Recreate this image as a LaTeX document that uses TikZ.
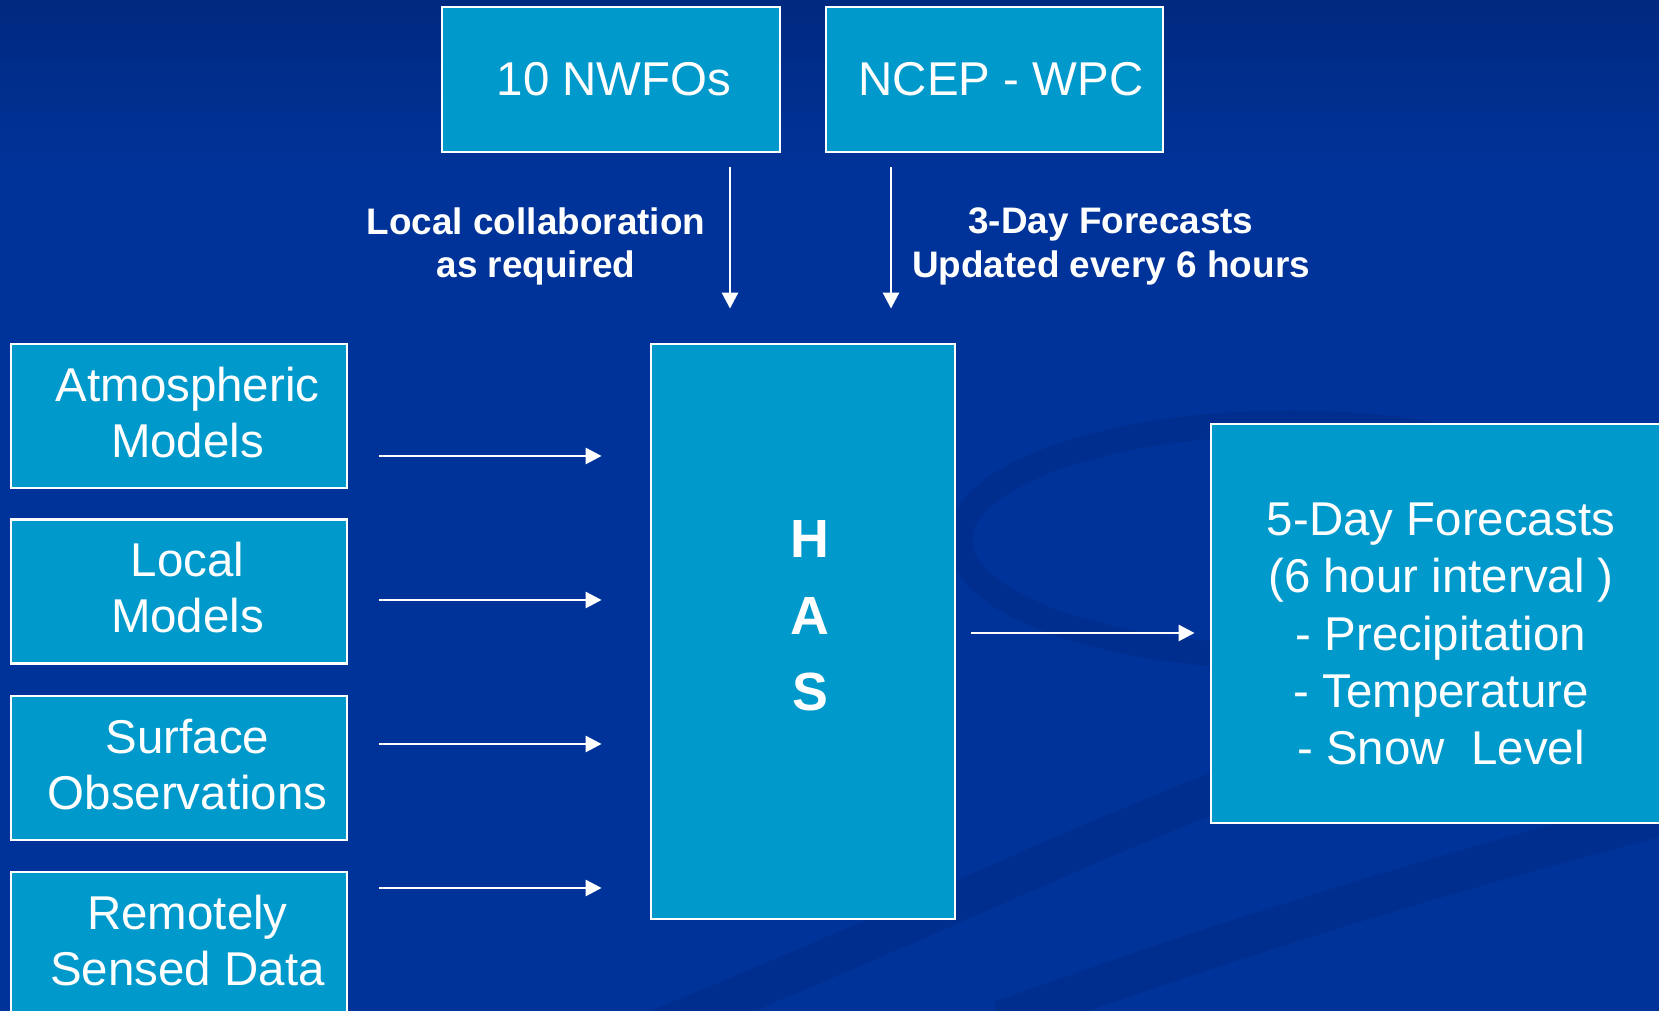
\documentclass[tikz,border=0pt]{standalone}
\usepackage{fontspec}
\setmainfont{Liberation Sans}
\usetikzlibrary{arrows.meta,positioning}
\definecolor{bgblue}{RGB}{0,51,153}
\definecolor{bgtop}{RGB}{0,41,128}
\definecolor{bgdark}{RGB}{0,46,142}
\definecolor{boxblue}{RGB}{0,153,204}

\begin{document}
\begin{tikzpicture}[
	box/.style={draw=white, line width=0.8pt, fill=boxblue, inner sep=0pt},
	boxtxt/.style={text=white, align=center, inner sep=0pt, font=\fontsize{13.5}{15.9}\selectfont},
	flow/.style={draw=white, line width=0.8pt, -{Triangle[length=1.6mm,width=1.6mm]}},
	note/.style={text=white, align=center, font=\bfseries\fontsize{10.5}{12.5}\selectfont}]
	\useasboundingbox (0,0) rectangle (16.59,10.11);
	\clip (0,0) rectangle (16.59,10.11);
	\fill[bgblue] (0,0) rectangle (16.59,10.11);
	\shade[top color=bgtop, bottom color=bgblue] (0,8.4) rectangle (16.59,10.11);
	% background swooshes
	\draw[bgdark, line width=2.5mm] (12.9,4.71) ellipse (3.3 and 1.17);
	\draw[bgdark, line width=4mm] (5.8,-0.5) .. controls (9.3,0.9) and (11,1.8) .. (13,2.5);
	\draw[bgdark, line width=4mm] (10.0,-0.1) .. controls (12.5,0.8) and (14.5,1.4) .. (16.8,2.0);

	% sources on top
	\node[box, minimum width=3.38cm, minimum height=1.45cm] (nwfo) at (6.11,9.315) {};
	\node[box, minimum width=3.37cm, minimum height=1.45cm] (wpc) at (9.945,9.315) {};
	\node[boxtxt] (nwfotxt) at ([xshift=0.3mm]nwfo.center) {10 NWFOs};
	\node[boxtxt] (wpctxt) at ([xshift=0.65mm]wpc.center) {NCEP - WPC};

	% inputs on the left
	\node[box, minimum width=3.36cm, minimum height=1.44cm] (atm) at (1.79,5.95) {};
	\node[box, minimum width=3.36cm, minimum height=1.44cm] (loc) at (1.79,4.195) {};
	\node[box, minimum width=3.36cm, minimum height=1.44cm] (sfc) at (1.79,2.43) {};
	\node[box, minimum width=3.36cm, minimum height=1.44cm] (rsd) at (1.79,0.67) {};
	\node[boxtxt] (atmtxt) at ([shift={(0.85mm,0.35mm)}]atm.center) {Atmospheric\\Models};
	\node[boxtxt] (loctxt) at ([shift={(0.85mm,0.35mm)}]loc.center) {Local\\Models};
	\node[boxtxt] (sfctxt) at ([shift={(0.85mm,0.35mm)}]sfc.center) {Surface\\Observations};
	\node[boxtxt] (rsdtxt) at ([shift={(0.85mm,0.35mm)}]rsd.center) {Remotely\\Sensed Data};

	% HAS and its output
	\node[box, minimum width=3.04cm, minimum height=5.75cm] (has) at (8.03,3.795) {};
	\node[text=white, align=center, font=\bfseries\fontsize{15.3}{21.8}\selectfont] (haslbl) at (8.10,3.95) {H\\A\\S};
	\node[box, minimum width=4.6cm, minimum height=3.99cm] (fc) at (14.41,3.875) {};
	\node[boxtxt, font=\fontsize{13.5}{16.3}\selectfont] (fctxt) at (14.41,3.77)
		{5-Day Forecasts\\(6 hour interval )\\- Precipitation\\- Temperature\\- Snow~~Level};

	\node[note] (collab) at (5.36,7.645) {Local collaboration\\as required};
	\node[note] (upd) at (11.11,7.645) {3-Day Forecasts\\Updated every 6 hours};

	\coordinate (dn1) at (7.30,8.44);
	\coordinate (dn2) at (8.91,8.44);
	\draw[flow] (dn1) -- ([yshift=3.4mm]dn1 |- has.north);
	\draw[flow] (dn2) -- ([yshift=3.4mm]dn2 |- has.north);

	\foreach \y [count=\i] in {5.55,4.11,2.67,1.23} {
		\coordinate (in\i) at (3.79,\y);
		\draw[flow] (in\i) -- ([xshift=-4.8mm]in\i -| has.west);
	}

	\coordinate (out) at (9.71,3.78);
	\draw[flow] (out) -- ([xshift=-1.5mm]out -| fc.west);
\end{tikzpicture}
\end{document}
